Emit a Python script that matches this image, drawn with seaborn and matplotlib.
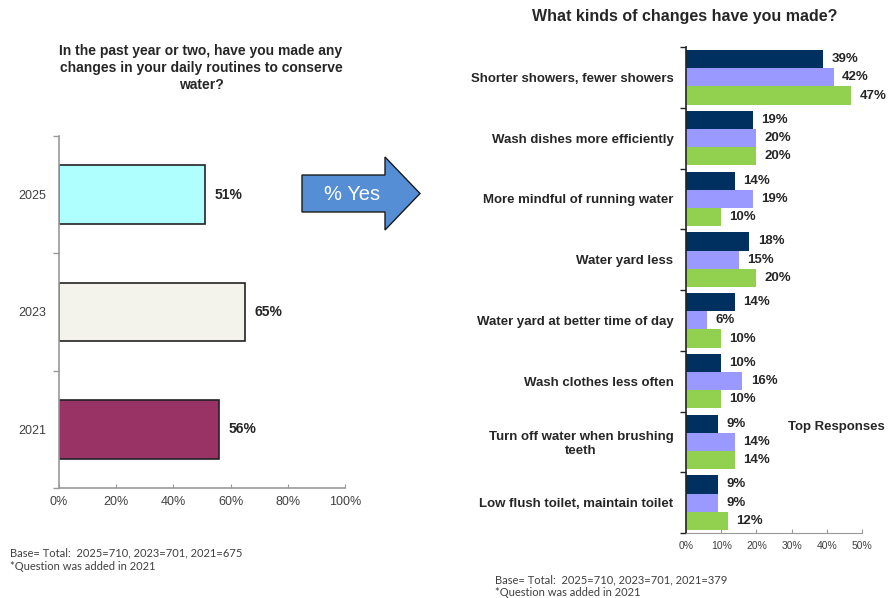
import pandas as pd
import matplotlib.pyplot as plt
import seaborn as sns
from matplotlib.patches import Polygon

# ---- data ----
years = ["2025", "2023", "2021"]
yes_pct = [51, 65, 56]

changes = [
    "Shorter showers, fewer showers",
    "Wash dishes more efficiently",
    "More mindful of running water",
    "Water yard less",
    "Water yard at better time of day",
    "Wash clothes less often",
    "Turn off water when brushing\nteeth",
    "Low flush toilet, maintain toilet",
]
pct_2025 = [39, 19, 14, 18, 14, 10, 9, 9]
pct_2023 = [42, 20, 19, 15, 6, 16, 14, 9]
pct_2021 = [47, 20, 10, 20, 10, 10, 14, 12]

left_colors = ["#B0FFFF", "#F3F3EC", "#993366"]
right_colors = ["#00305F", "#9999FF", "#92D050"]

sns.set_style("white")
plt.rcParams['font.family'] = ['Liberation Sans', 'DejaVu Sans']

W, H = 893, 598
fig = plt.figure(figsize=(W / 100, H / 100), dpi=100)


def fx(px):
    return px / W


def fy(py):
    return 1 - py / H


# ================= left chart =================
axl = fig.add_axes([fx(59), fy(488), fx(345) - fx(59), fy(136) - fy(488)])
df_left = pd.DataFrame({"year": years, "pct": yes_pct})
sns.barplot(data=df_left, y="year", x="pct", hue="year", palette=left_colors,
            orient="h", width=0.5, saturation=1, edgecolor="#222222",
            linewidth=1.2, legend=False, ax=axl)
axl.set_xlim(0, 100)
axl.set_ylim(2.5, -0.5)
axl.set_xticks(range(0, 101, 20))
axl.set_xticklabels([f"{v}%" for v in range(0, 101, 20)], fontsize=9, color="#404040")
axl.set_yticks([0, 1, 2])
axl.set_yticklabels(years, fontsize=9, color="#404040")
axl.tick_params(axis="y", length=0, pad=9)
axl.set_yticks([-0.5, 0.5, 1.5, 2.5], minor=True)
axl.tick_params(axis="y", which="minor", left=True, length=4, width=1,
                color="#999999", direction="out")
axl.tick_params(axis="x", bottom=True, length=3, color="#999999", direction="in", pad=6)
axl.set_xlabel("")
axl.set_ylabel("")
for s in ["top", "right"]:
    axl.spines[s].set_visible(False)
for s in ["left", "bottom"]:
    axl.spines[s].set_color("#999999")
    axl.spines[s].set_linewidth(1.2)
for c in axl.containers:
    axl.bar_label(c, fmt="%d%%", padding=7, fontsize=10, fontweight="bold")

fig.text(fx(201), fy(68), "In the past year or two, have you made any\nchanges in your daily routines to conserve\nwater?",
         ha="center", va="center", fontsize=10, fontweight="bold", linespacing=1.3)

# ================= right chart =================
axr = fig.add_axes([fx(686), fy(533), fx(862) - fx(686), fy(47) - fy(533)])
df_right = pd.DataFrame({
    "change": changes * 3,
    "pct": pct_2025 + pct_2023 + pct_2021,
    "year": ["2025"] * len(changes) + ["2023"] * len(changes) + ["2021"] * len(changes),
})
sns.barplot(data=df_right, y="change", x="pct", hue="year", hue_order=years,
            palette=right_colors, orient="h", width=0.9, saturation=1,
            linewidth=0, legend=False, ax=axr)
axr.set_xlim(0, 50)
axr.set_ylim(len(changes) - 0.5, -0.5)
axr.set_xticks(range(0, 51, 10))
axr.set_xticklabels([f"{v}%" for v in range(0, 51, 10)], fontsize=7.5, color="#404040")
axr.set_yticks(range(len(changes)))
axr.set_yticklabels(changes, fontsize=9.5, fontweight="bold", multialignment="center")
axr.tick_params(axis="y", length=0, pad=9)
axr.set_yticks([i - 0.5 for i in range(len(changes) + 1)], minor=True)
axr.tick_params(axis="y", which="minor", left=True, length=4, width=1,
                color="#222222", direction="out")
axr.tick_params(axis="x", bottom=True, length=3, color="#999999", direction="in", pad=6)
axr.set_xlabel("")
axr.set_ylabel("")
for s in ["top", "right"]:
    axr.spines[s].set_visible(False)
axr.spines["left"].set_color("#222222")
axr.spines["left"].set_linewidth(1.2)
axr.spines["bottom"].set_color("#999999")
for c in axr.containers:
    axr.bar_label(c, fmt="%d%%", padding=6, fontsize=9.5, fontweight="bold")

fig.text(fx(685), fy(17), "What kinds of changes have you made?",
         ha="center", va="center", fontsize=11.5, fontweight="bold")
fig.text(fx(788), fy(427), "Top Responses", ha="left", va="center",
         fontsize=9.5, fontweight="bold")

# ================= arrow =================
arrow_px = [(302, 175), (385, 175), (385, 157), (420, 193.5),
            (385, 230), (385, 212), (302, 212)]
arrow = Polygon([(fx(x), fy(y)) for x, y in arrow_px], closed=True,
                transform=fig.transFigure, facecolor="#558ED5",
                edgecolor="#1a1a1a", linewidth=1)
fig.patches.append(arrow)
fig.text(fx(352), fy(194), "% Yes", ha="center", va="center",
         fontsize=14.5, color="white")

# ================= footnotes =================
foot = ['Lato', 'DejaVu Sans']
fig.text(fx(10), fy(553), "Base= Total:  2025=710, 2023=701, 2021=675",
         fontsize=8, color="#404040", family=foot, va="center")
fig.text(fx(10), fy(566), "*Question was added in 2021",
         fontsize=8, color="#404040", family=foot, va="center")
fig.text(fx(495), fy(580), "Base= Total:  2025=710, 2023=701, 2021=379",
         fontsize=8, color="#404040", family=foot, va="center")
fig.text(fx(495), fy(592), "*Question was added in 2021",
         fontsize=8, color="#404040", family=foot, va="center")

fig.savefig("out.png", dpi=100)
